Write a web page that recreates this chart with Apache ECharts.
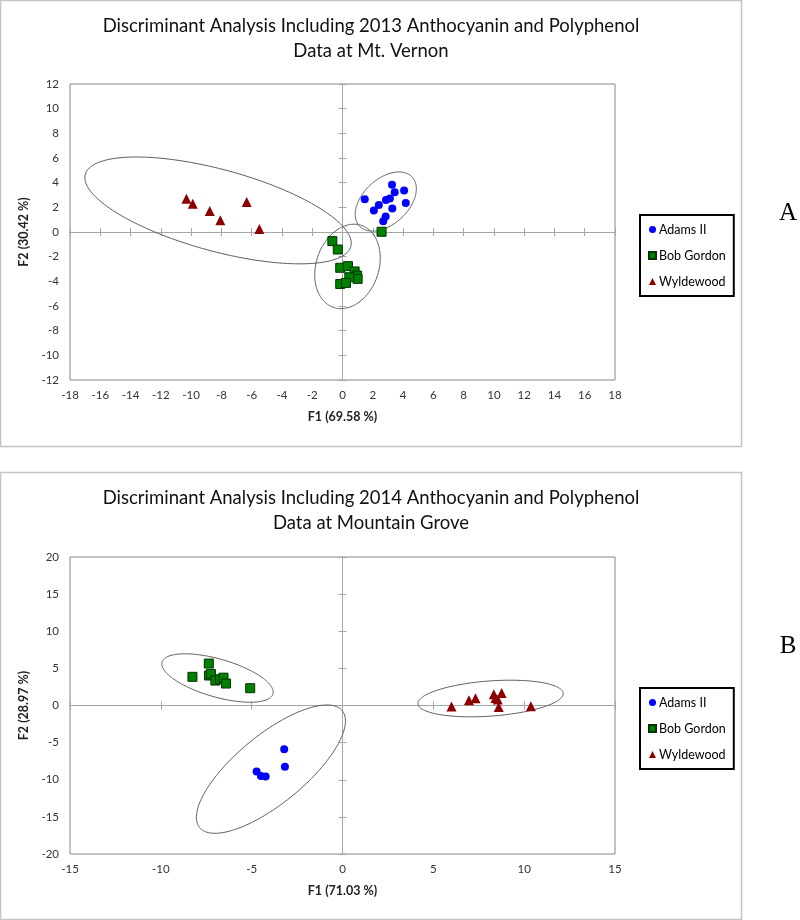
<!DOCTYPE html>
<html><head><meta charset="utf-8">
<script src="https://cdn.jsdelivr.net/npm/echarts@6/dist/echarts.min.js"></script>
<style>html,body{margin:0;padding:0;background:#fff}#c{width:800px;height:920px}</style>
</head><body><div id="c"></div>
<script>
// ---------- DATA ----------
const groups = ['Adams II', 'Bob Gordon', 'Wyldewood'];

// Panel A : 2013, Mt. Vernon
const titleA = ['Discriminant Analysis Including 2013 Anthocyanin and Polyphenol', 'Data at Mt. Vernon'];
const xNameA = 'F1 (69.58 %)';
const yNameA = 'F2 (30.42 %)';
const adamsA_x = [1.47, 2.07, 2.40, 2.87, 3.13, 3.27, 3.45, 4.07, 4.18, 3.29, 2.85, 2.69];
const adamsA_y = [2.65, 1.75, 2.19, 2.60, 2.71, 3.84, 3.23, 3.37, 2.36, 1.91, 1.26, 0.88];
const bobA_x = [-0.67, -0.31, 2.58, -0.15, 0.36, 0.80, 0.96, 1.00, 0.45, -0.15, 0.23];
const bobA_y = [-0.74, -1.42, 0.02, -2.90, -2.77, -3.20, -3.53, -3.80, -3.67, -4.22, -4.13];
const wyldA_x = [-10.31, -9.89, -8.77, -8.07, -6.33, -5.49];
const wyldA_y = [2.69, 2.30, 1.70, 0.96, 2.44, 0.25];
// ellipses: [centerX, centerY, semiAxis1 dx, dy, semiAxis2 dx, dy] in data units
const ellA_adams = [2.86, 2.47, 1.747, 1.980, 1.011, -1.355];
const ellA_bob = [0.33, -2.79, 0.933, 3.32, 1.953, -0.832];
const ellA_wyld = [-8.22, 1.75, 8.77, -2.92, -0.70, -3.20];
const axisA = { xmin: -18, xmax: 18, xstep: 2, ymin: -12, ymax: 12, ystep: 2 };

// Panel B : 2014, Mountain Grove
const titleB = ['Discriminant Analysis Including 2014 Anthocyanin and Polyphenol', 'Data at Mountain Grove'];
const xNameB = 'F1 (71.03 %)';
const yNameB = 'F2 (28.97 %)';
const adamsB_x = [-3.21, -3.17, -4.73, -4.49, -4.23];
const adamsB_y = [-5.88, -8.25, -8.88, -9.51, -9.56];
const bobB_x = [-7.36, -8.26, -7.35, -7.24, -7.00, -6.74, -6.55, -6.41, -5.08];
const bobB_y = [5.65, 3.86, 4.04, 4.25, 3.36, 3.54, 3.75, 2.96, 2.33];
const wyldB_x = [6.00, 6.96, 7.32, 8.33, 8.42, 8.55, 8.76, 8.60, 10.37];
const wyldB_y = [-0.15, 0.70, 0.98, 1.50, 1.00, 0.80, 1.70, -0.20, -0.10];
const ellB_adams = [-3.94, -8.57, 3.925, 7.87, 1.194, -3.57];
const ellB_bob = [-6.88, 3.70, 3.053, -2.144, -0.288, -2.458];
const ellB_wyld = [8.15, 0.94, 4.0, 0.708, 0.070, -2.362];
const axisB = { xmin: -15, xmax: 15, xstep: 5, ymin: -20, ymax: 20, ystep: 5 };

const panelLetters = ['A', 'B'];

// ---------- STYLE ----------
const FONT = 'Lato, "Open Sans", sans-serif';
const styles = {
  'Adams II': { symbol: 'circle', size: 8, itemStyle: { color: '#0000ff', opacity: 1 } },
  'Bob Gordon': { symbol: 'rect', size: 9, itemStyle: { color: '#008000', borderColor: '#003300', borderWidth: 1, opacity: 1 } },
  'Wyldewood': { symbol: 'triangle', size: 10, itemStyle: { color: '#8b0000', opacity: 1 } }
};

const panels = [
  { title: titleA, xName: xNameA, yName: yNameA, ax: axisA,
    pts: [[adamsA_x, adamsA_y], [bobA_x, bobA_y], [wyldA_x, wyldA_y]],
    ells: [ellA_adams, ellA_bob, ellA_wyld],
    grid: { left: 70, top: 84, width: 545, height: 296 }, boxTop: 0, boxH: 446, legendTop: 215, letterY: 213 },
  { title: titleB, xName: xNameB, yName: yNameB, ax: axisB,
    pts: [[adamsB_x, adamsB_y], [bobB_x, bobB_y], [wyldB_x, wyldB_y]],
    ells: [ellB_adams, ellB_bob, ellB_wyld],
    grid: { left: 70, top: 557, width: 545, height: 297 }, boxTop: 472, boxH: 447, legendTop: 688, letterY: 646 }
];

const grids = [], xAxes = [], yAxes = [], series = [], legends = [], graphics = [];

panels.forEach((p, gi) => {
  grids.push(Object.assign({ show: true, borderColor: '#868686', borderWidth: 1, backgroundColor: 'transparent' }, p.grid));
  const xBase = xAxes.length, yBase = yAxes.length;
  const xr = { type: 'value', gridIndex: gi, min: p.ax.xmin, max: p.ax.xmax, interval: p.ax.xstep, splitLine: { show: false } };
  const yr = { type: 'value', gridIndex: gi, min: p.ax.ymin, max: p.ax.ymax, interval: p.ax.ystep, splitLine: { show: false } };
  // main axes with labels
  xAxes.push(Object.assign({}, xr, {
    position: 'bottom', axisLine: { show: false, onZero: false }, axisTick: { show: false },
    axisLabel: { fontFamily: FONT, fontSize: 11.5, color: '#333', margin: 9 },
    name: p.xName, nameLocation: 'middle', nameGap: 30,
    nameTextStyle: { fontFamily: FONT, fontSize: 12.5, fontWeight: 'bold', color: '#222' }
  }));
  yAxes.push(Object.assign({}, yr, {
    position: 'left', axisLine: { show: false, onZero: false }, axisTick: { show: false },
    axisLabel: { fontFamily: FONT, fontSize: 11.5, color: '#333', margin: 11 },
    name: p.yName, nameLocation: 'middle', nameGap: 31,
    nameTextStyle: { fontFamily: FONT, fontSize: 12.5, fontWeight: 'bold', color: '#222' }
  }));
  // zero-crossing axes with ticks on both sides
  [false, true].forEach(inside => {
    xAxes.push(Object.assign({}, xr, {
      position: 'bottom',
      axisLine: { show: true, onZero: true, onZeroAxisIndex: yBase, lineStyle: { color: '#a6a6a6', width: 1 } },
      axisTick: { show: true, inside: inside, length: 4, lineStyle: { color: '#a6a6a6' } },
      axisLabel: { show: false }
    }));
    yAxes.push(Object.assign({}, yr, {
      position: 'left',
      axisLine: { show: true, onZero: true, onZeroAxisIndex: xBase, lineStyle: { color: '#a6a6a6', width: 1 } },
      axisTick: { show: true, inside: inside, length: 4, lineStyle: { color: '#a6a6a6' } },
      axisLabel: { show: false }
    }));
  });

  // ellipses
  series.push({
    type: 'custom', name: 'ellipse' + gi, xAxisIndex: xBase, yAxisIndex: yBase, silent: true, z: 1,
    dimensions: ['cx', 'cy', 'ux', 'uy', 'vx', 'vy'],
    encode: { x: 0, y: 1 },
    data: p.ells,
    renderItem: (params, api) => {
      const cx = api.value(0), cy = api.value(1), ux = api.value(2), uy = api.value(3), vx = api.value(4), vy = api.value(5);
      const pts = [];
      const N = 180;
      for (let k = 0; k <= N; k++) {
        const t = 2 * Math.PI * k / N, c = Math.cos(t), s = Math.sin(t);
        pts.push(api.coord([cx + ux * c + vx * s, cy + uy * c + vy * s]));
      }
      return { type: 'polyline', shape: { points: pts }, style: { stroke: '#5e5e5e', lineWidth: 1, fill: null } };
    }
  });

  // points
  groups.forEach((g, si) => {
    const xs = p.pts[si][0], ys = p.pts[si][1];
    const st = styles[g];
    series.push({
      type: 'scatter', name: g, xAxisIndex: xBase, yAxisIndex: yBase, z: 3,
      symbol: st.symbol, symbolSize: st.size, itemStyle: st.itemStyle,
      data: xs.map((x, i) => [x, ys[i]])
    });
  });

  legends.push({
    orient: 'vertical', left: 640, top: p.legendTop,
    data: groups.map(g => ({ name: g, icon: styles[g].symbol })),
    itemWidth: 7, itemHeight: 7, itemGap: 13,
    textStyle: { fontFamily: FONT, fontSize: 12.5, color: '#000', padding: [0, 0, 0, -2] },
    borderColor: '#000', borderWidth: 2, padding: [8, 8, 8, 8], backgroundColor: '#fff',
    selectedMode: false
  });

  graphics.push({ type: 'rect', shape: { x: 0.5, y: p.boxTop + 0.5, width: 741, height: p.boxH }, style: { fill: null, stroke: '#c4c4c4', lineWidth: 1.5 }, z: -1 });
  graphics.push({ type: 'text', x: 371, y: p.boxTop + 26, style: { text: p.title[0], font: '18.5px ' + FONT, textAlign: 'center', textVerticalAlign: 'middle', fill: '#111' } });
  graphics.push({ type: 'text', x: 371, y: p.boxTop + 51, style: { text: p.title[1], font: '18.5px ' + FONT, textAlign: 'center', textVerticalAlign: 'middle', fill: '#111' } });
  graphics.push({ type: 'text', x: 788, y: p.letterY, style: { text: panelLetters[gi], font: '25px "Liberation Serif", serif', textAlign: 'center', textVerticalAlign: 'middle', fill: '#000' } });
});

const chart = echarts.init(document.getElementById('c'), null, { renderer: 'canvas' });
chart.setOption({
  animation: false,
  backgroundColor: '#fff',
  grid: grids, xAxis: xAxes, yAxis: yAxes, series: series, legend: legends, graphic: graphics
});
</script>
</body></html>
